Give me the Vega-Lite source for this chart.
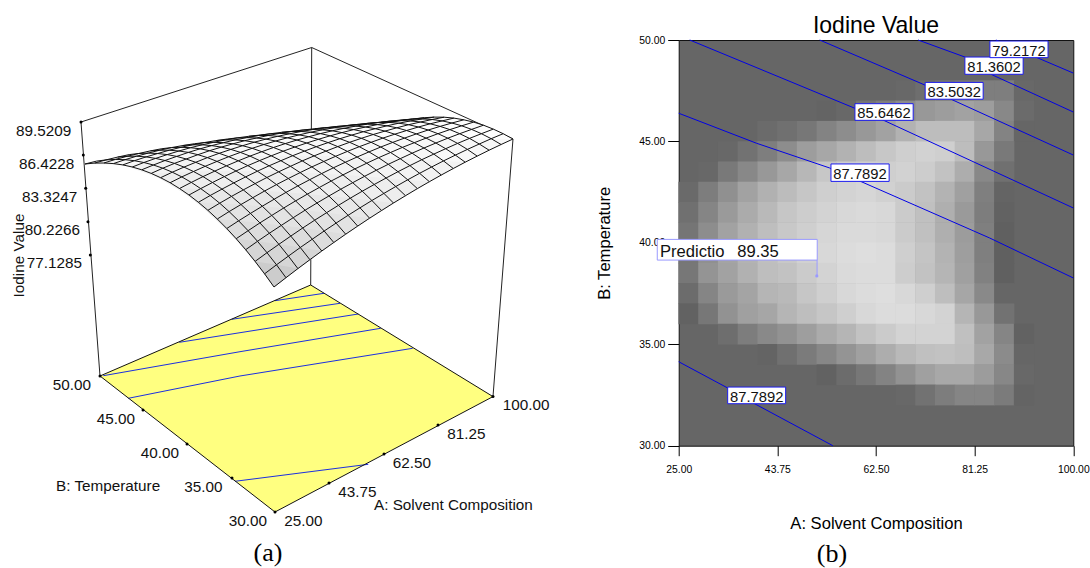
{"$schema":"https://vega.github.io/schema/vega-lite/v6.json","padding":{"left":0,"top":14,"right":16.7,"bottom":0},"bounds":"flush","spacing":78.7,"config":{"view":{"stroke":null},"font":"Liberation Sans"},
"datasets":{
"frame":[{"s":"l","k":0,"u":81,"v":122},{"s":"l","k":1,"u":100,"v":376},{"s":"t","k":0,"u":81,"v":122},{"s":"t","k":1,"u":311.7,"v":47.5},{"s":"t","k":2,"u":513,"v":139},{"s":"b","k":0,"u":311.7,"v":47.5},{"s":"b","k":1,"u":310.7,"v":285},{"s":"r","k":0,"u":513,"v":139},{"s":"r","k":1,"u":493,"v":396.6}],
"floorEdge":[{"u":100,"v":376,"k":0},{"u":275,"v":512,"k":1},{"u":493,"v":396.6,"k":2},{"u":310.7,"v":285,"k":3},{"u":100,"v":376,"k":4}],
"floor":[{"u":100,"v":376,"v2":376},{"u":275,"v":300.4,"v2":512},{"u":310.7,"v":285,"v2":493.1},{"u":493,"v":396.6,"v2":396.6}],
"floorContours":[{"c":"a","u":275,"v":300.7},{"c":"a","u":324,"v":293.3},{"c":"b","u":231.7,"v":319.3},{"c":"b","u":340,"v":303.3},{"c":"c","u":179.3,"v":342.3},{"c":"c","u":358.3,"v":314},{"c":"d","u":103.3,"v":375.7},{"c":"d","u":240,"v":351.7},{"c":"d","u":380.7,"v":328.3},{"c":"e","u":128.3,"v":398.3},{"c":"e","u":240,"v":376},{"c":"e","u":412.7,"v":348.3},{"c":"f","u":235,"v":481.3},{"c":"f","u":368.3,"v":464.3}],
"dots":[{"u":81,"v":122},{"u":83.3,"v":155},{"u":85.7,"v":188.3},{"u":88,"v":221.7},{"u":90.3,"v":255},{"u":100,"v":376},{"u":143,"v":410},{"u":187,"v":444},{"u":232,"v":478},{"u":275,"v":512},{"u":329,"v":483},{"u":384,"v":454},{"u":438,"v":425},{"u":493,"v":396.6}],
"labels":[{"t":"89.5209","u":16,"v":136},{"t":"86.4228","u":19,"v":169},{"t":"83.3247","u":22,"v":202.3},{"t":"80.2266","u":24.7,"v":235},{"t":"77.1285","u":26.7,"v":268},{"t":"50.00","u":52.7,"v":390},{"t":"45.00","u":96.7,"v":424},{"t":"40.00","u":140.7,"v":458},{"t":"35.00","u":184.3,"v":492},{"t":"30.00","u":228.7,"v":526},{"t":"25.00","u":284.3,"v":526},{"t":"43.75","u":338.3,"v":497.3},{"t":"62.50","u":392.7,"v":468.3},{"t":"81.25","u":447.3,"v":439.3},{"t":"100.00","u":502.7,"v":410},{"t":"B: Temperature","u":56,"v":490.7},{"t":"A: Solvent Composition","u":374,"v":510}],
"bands":[
{"n":99,"u":85,"v":164,"v2":164},{"n":99,"u":96.6,"v":161.1,"v2":163.2},{"n":99,"u":117.6,"v":157.1,"v2":164.1},{"n":99,"u":129.2,"v":154.6,"v2":166.2},{"n":99,"u":150.3,"v":150.9,"v2":173},{"n":99,"u":183,"v":145.5,"v2":191},{"n":99,"u":215.8,"v":140.6,"v2":217.6},{"n":99,"u":248.8,"v":136.3,"v2":253},{"n":99,"u":274,"v":133.5,"v2":287},{"n":99,"u":293.4,"v":131.2,"v2":272},{"n":99,"u":326.5,"v":127.8,"v2":247.6},{"n":99,"u":359.7,"v":124.5,"v2":224.7},{"n":99,"u":392.9,"v":121.5,"v2":203.4},{"n":99,"u":414.5,"v":119,"v2":190.3},{"n":99,"u":434.2,"v":117.1,"v2":178.8},{"n":99,"u":444.1,"v":117.2,"v2":173.5},{"n":99,"u":453.9,"v":118.1,"v2":168.2},{"n":99,"u":463.8,"v":119.8,"v2":163},{"n":99,"u":473.6,"v":122.1,"v2":157.9},{"n":99,"u":483.5,"v":125.2,"v2":153},{"n":99,"u":493.3,"v":129.1,"v2":148.2},{"n":99,"u":503.2,"v":133.7,"v2":143.5},{"n":99,"u":513,"v":139,"v2":139},
{"n":20,"u":85,"v":164,"v2":164},{"n":20,"u":127.1,"v":156.3,"v2":165.8},{"n":20,"u":169.3,"v":150.2,"v2":182.2},{"n":20,"u":211.7,"v":145.6,"v2":213.6},{"n":20,"u":254.3,"v":142.2,"v2":260.4},{"n":20,"u":274,"v":141.2,"v2":287},{"n":20,"u":297,"v":140,"v2":269.3},{"n":20,"u":339.9,"v":138.7,"v2":238.2},{"n":20,"u":382.9,"v":138.1,"v2":209.7},{"n":20,"u":426.1,"v":138.1,"v2":183.6},{"n":20,"u":469.5,"v":138.4,"v2":160.1},{"n":20,"u":513,"v":139,"v2":139},
{"n":16,"u":122.8,"v":164.9,"v2":164.9},{"n":16,"u":165,"v":160.5,"v2":180},{"n":16,"u":207.4,"v":157.6,"v2":209.8},{"n":16,"u":250,"v":156.1,"v2":255},{"n":16,"u":274,"v":155.9,"v2":287},{"n":16,"u":292.7,"v":155.7,"v2":273},{"n":16,"u":335.6,"v":156.3,"v2":241.2},{"n":16,"u":378.6,"v":157.7,"v2":212.4},{"n":16,"u":421.8,"v":159.7,"v2":186.1},{"n":16,"u":465.2,"v":162.2,"v2":162.2},
{"n":13,"u":151.2,"v":173.4,"v2":173.4},{"n":13,"u":193.5,"v":171.5,"v2":198.7},{"n":13,"u":236,"v":171,"v2":238.5},{"n":13,"u":274,"v":171.6,"v2":287},{"n":13,"u":321.6,"v":173.6,"v2":251.1},{"n":13,"u":364.6,"v":176.3,"v2":221.4},{"n":13,"u":429.4,"v":181.7,"v2":181.7},
{"n":10,"u":179.5,"v":188.5,"v2":188.5},{"n":10,"u":222,"v":189.1,"v2":223.7},{"n":10,"u":255,"v":190.5,"v2":261.4},{"n":10,"u":274,"v":191.6,"v2":287},{"n":10,"u":307.4,"v":194.1,"v2":261.9},{"n":10,"u":350.4,"v":198.1,"v2":231},{"n":10,"u":393.5,"v":203,"v2":203},
{"n":8,"u":198.4,"v":202.3,"v2":202.3},{"n":8,"u":241,"v":204.5,"v2":244.2},{"n":8,"u":255,"v":205.7,"v2":261.4},{"n":8,"u":274,"v":207.3,"v2":287},{"n":8,"u":297.9,"v":209.5,"v2":268.6},{"n":8,"u":326.6,"v":212.7,"v2":247.6},{"n":8,"u":369.6,"v":218.2,"v2":218.2},
{"n":6,"u":217.3,"v":219,"v2":219},{"n":6,"u":238.6,"v":220.8,"v2":241.5},{"n":6,"u":259.9,"v":222.9,"v2":267.5},{"n":6,"u":274,"v":224.5,"v2":287},{"n":6,"u":302.7,"v":228,"v2":265},{"n":6,"u":324.2,"v":231,"v2":249},{"n":6,"u":345.7,"v":234.2,"v2":234.2},
{"n":4,"u":236.2,"v":238.7,"v2":238.7},{"n":4,"u":255.1,"v":241,"v2":261.4},{"n":4,"u":274,"v":243.6,"v2":287},{"n":4,"u":297.9,"v":247.1,"v2":268.6},{"n":4,"u":321.8,"v":251,"v2":251},
{"n":2,"u":255.1,"v":261.4,"v2":261.4},{"n":2,"u":274,"v":264.3,"v2":287},{"n":2,"u":297.9,"v":268.6,"v2":268.6}],
"nodes":[
{"i":0,"j":0,"u":274,"v":287},{"i":0,"j":1,"u":264.6,"v":273.8},{"i":0,"j":2,"u":255.1,"v":261.4},{"i":0,"j":3,"u":245.7,"v":249.7},{"i":0,"j":4,"u":236.2,"v":238.7},{"i":0,"j":5,"u":226.8,"v":228.5},{"i":0,"j":6,"u":217.3,"v":219},{"i":0,"j":7,"u":207.9,"v":210.3},{"i":0,"j":8,"u":198.4,"v":202.3},{"i":0,"j":9,"u":189,"v":195},{"i":0,"j":10,"u":179.5,"v":188.5},{"i":0,"j":11,"u":170.1,"v":182.7},{"i":0,"j":12,"u":160.6,"v":177.7},{"i":0,"j":13,"u":151.2,"v":173.4},{"i":0,"j":14,"u":141.7,"v":169.8},{"i":0,"j":15,"u":132.3,"v":167},{"i":0,"j":16,"u":122.8,"v":164.9},{"i":0,"j":17,"u":113.4,"v":163.6},{"i":0,"j":18,"u":103.9,"v":163},{"i":0,"j":19,"u":94.5,"v":163.1},{"i":0,"j":20,"u":85,"v":164},
{"i":1,"j":0,"u":286,"v":277.7},{"i":1,"j":1,"u":276.5,"v":264.8},{"i":1,"j":2,"u":267,"v":252.7},{"i":1,"j":3,"u":257.5,"v":241.3},{"i":1,"j":4,"u":248.1,"v":230.7},{"i":1,"j":5,"u":238.6,"v":220.8},{"i":1,"j":6,"u":229.1,"v":211.6},{"i":1,"j":7,"u":219.7,"v":203.2},{"i":1,"j":8,"u":210.2,"v":195.5},{"i":1,"j":9,"u":200.7,"v":188.6},{"i":1,"j":10,"u":191.3,"v":182.4},{"i":1,"j":11,"u":181.8,"v":176.9},{"i":1,"j":12,"u":172.3,"v":172.2},{"i":1,"j":13,"u":162.8,"v":168.2},{"i":1,"j":14,"u":153.4,"v":165},{"i":1,"j":15,"u":143.9,"v":162.5},{"i":1,"j":16,"u":134.4,"v":160.7},{"i":1,"j":17,"u":125,"v":159.7},{"i":1,"j":18,"u":115.5,"v":159.4},{"i":1,"j":19,"u":106,"v":159.9},{"i":1,"j":20,"u":96.6,"v":161.1},
{"i":2,"j":0,"u":297.9,"v":268.6},{"i":2,"j":1,"u":288.4,"v":256.1},{"i":2,"j":2,"u":278.9,"v":244.3},{"i":2,"j":3,"u":269.4,"v":233.2},{"i":2,"j":4,"u":259.9,"v":222.9},{"i":2,"j":5,"u":250.5,"v":213.4},{"i":2,"j":6,"u":241,"v":204.5},{"i":2,"j":7,"u":231.5,"v":196.4},{"i":2,"j":8,"u":222,"v":189.1},{"i":2,"j":9,"u":212.5,"v":182.5},{"i":2,"j":10,"u":203,"v":176.6},{"i":2,"j":11,"u":193.5,"v":171.5},{"i":2,"j":12,"u":184,"v":167.1},{"i":2,"j":13,"u":174.5,"v":163.4},{"i":2,"j":14,"u":165,"v":160.5},{"i":2,"j":15,"u":155.6,"v":158.4},{"i":2,"j":16,"u":146.1,"v":156.9},{"i":2,"j":17,"u":136.6,"v":156.2},{"i":2,"j":18,"u":127.1,"v":156.3},{"i":2,"j":19,"u":117.6,"v":157.1},
{"i":3,"j":0,"u":309.9,"v":259.7},{"i":3,"j":1,"u":300.3,"v":247.5},{"i":3,"j":2,"u":290.8,"v":236.1},{"i":3,"j":3,"u":281.3,"v":225.4},{"i":3,"j":4,"u":271.8,"v":215.4},{"i":3,"j":5,"u":262.3,"v":206.2},{"i":3,"j":6,"u":252.8,"v":197.7},{"i":3,"j":7,"u":243.3,"v":189.9},{"i":3,"j":8,"u":233.8,"v":182.9},{"i":3,"j":9,"u":224.3,"v":176.6},{"i":3,"j":10,"u":214.8,"v":171.1},{"i":3,"j":11,"u":205.2,"v":166.3},{"i":3,"j":12,"u":195.7,"v":162.3},{"i":3,"j":13,"u":186.2,"v":159},{"i":3,"j":14,"u":176.7,"v":156.4},{"i":3,"j":15,"u":167.2,"v":154.6},{"i":3,"j":16,"u":157.7,"v":153.5},{"i":3,"j":17,"u":148.2,"v":153.1},{"i":3,"j":18,"u":138.7,"v":153.5},{"i":3,"j":19,"u":129.2,"v":154.6},
{"i":4,"j":0,"u":321.8,"v":251},{"i":4,"j":1,"u":312.3,"v":239.2},{"i":4,"j":2,"u":302.7,"v":228},{"i":4,"j":3,"u":293.2,"v":217.7},{"i":4,"j":4,"u":283.7,"v":208},{"i":4,"j":5,"u":274.2,"v":199.2},{"i":4,"j":6,"u":264.6,"v":191},{"i":4,"j":7,"u":255.1,"v":183.6},{"i":4,"j":8,"u":245.6,"v":176.9},{"i":4,"j":9,"u":236,"v":171},{"i":4,"j":10,"u":226.5,"v":165.8},{"i":4,"j":11,"u":217,"v":161.4},{"i":4,"j":12,"u":207.4,"v":157.6},{"i":4,"j":13,"u":197.9,"v":154.7},{"i":4,"j":14,"u":188.4,"v":152.4},{"i":4,"j":15,"u":178.9,"v":151},{"i":4,"j":16,"u":169.3,"v":150.2},{"i":4,"j":17,"u":159.8,"v":150.2},{"i":4,"j":18,"u":150.3,"v":150.9},
{"i":5,"j":0,"u":333.8,"v":242.5},{"i":5,"j":1,"u":324.2,"v":231},{"i":5,"j":2,"u":314.7,"v":220.2},{"i":5,"j":3,"u":305.1,"v":210.2},{"i":5,"j":4,"u":295.6,"v":200.9},{"i":5,"j":5,"u":286,"v":192.4},{"i":5,"j":6,"u":276.5,"v":184.6},{"i":5,"j":7,"u":266.9,"v":177.5},{"i":5,"j":8,"u":257.4,"v":171.2},{"i":5,"j":9,"u":247.8,"v":165.6},{"i":5,"j":10,"u":238.3,"v":160.8},{"i":5,"j":11,"u":228.7,"v":156.7},{"i":5,"j":12,"u":219.2,"v":153.3},{"i":5,"j":13,"u":209.6,"v":150.7},{"i":5,"j":14,"u":200.1,"v":148.8},{"i":5,"j":15,"u":190.5,"v":147.7},{"i":5,"j":16,"u":181,"v":147.3},{"i":5,"j":17,"u":171.4,"v":147.6},{"i":5,"j":18,"u":161.9,"v":148.7},
{"i":6,"j":0,"u":345.7,"v":234.2},{"i":6,"j":1,"u":336.1,"v":223.1},{"i":6,"j":2,"u":326.6,"v":212.7},{"i":6,"j":3,"u":317,"v":203},{"i":6,"j":4,"u":307.4,"v":194.1},{"i":6,"j":5,"u":297.9,"v":185.9},{"i":6,"j":6,"u":288.3,"v":178.5},{"i":6,"j":7,"u":278.7,"v":171.8},{"i":6,"j":8,"u":269.1,"v":165.8},{"i":6,"j":9,"u":259.6,"v":160.6},{"i":6,"j":10,"u":250,"v":156.1},{"i":6,"j":11,"u":240.4,"v":152.4},{"i":6,"j":12,"u":230.9,"v":149.4},{"i":6,"j":13,"u":221.3,"v":147.1},{"i":6,"j":14,"u":211.7,"v":145.6},{"i":6,"j":15,"u":202.2,"v":144.8},{"i":6,"j":16,"u":192.6,"v":144.8},{"i":6,"j":17,"u":183,"v":145.5},
{"i":7,"j":0,"u":357.7,"v":226.1},{"i":7,"j":1,"u":348.1,"v":215.3},{"i":7,"j":2,"u":338.5,"v":205.3},{"i":7,"j":3,"u":328.9,"v":196},{"i":7,"j":4,"u":319.3,"v":187.5},{"i":7,"j":5,"u":309.7,"v":179.7},{"i":7,"j":6,"u":300.1,"v":172.6},{"i":7,"j":7,"u":290.5,"v":166.3},{"i":7,"j":8,"u":280.9,"v":160.7},{"i":7,"j":9,"u":271.3,"v":155.8},{"i":7,"j":10,"u":261.8,"v":151.7},{"i":7,"j":11,"u":252.2,"v":148.3},{"i":7,"j":12,"u":242.6,"v":145.7},{"i":7,"j":13,"u":233,"v":143.8},{"i":7,"j":14,"u":223.4,"v":142.7},{"i":7,"j":15,"u":213.8,"v":142.3},{"i":7,"j":16,"u":204.2,"v":142.6},{"i":7,"j":17,"u":194.6,"v":143.7},
{"i":8,"j":0,"u":369.6,"v":218.2},{"i":8,"j":1,"u":360,"v":207.8},{"i":8,"j":2,"u":350.4,"v":198.1},{"i":8,"j":3,"u":340.8,"v":189.2},{"i":8,"j":4,"u":331.2,"v":181},{"i":8,"j":5,"u":321.6,"v":173.6},{"i":8,"j":6,"u":311.9,"v":166.9},{"i":8,"j":7,"u":302.3,"v":160.9},{"i":8,"j":8,"u":292.7,"v":155.7},{"i":8,"j":9,"u":283.1,"v":151.2},{"i":8,"j":10,"u":273.5,"v":147.5},{"i":8,"j":11,"u":263.9,"v":144.5},{"i":8,"j":12,"u":254.3,"v":142.2},{"i":8,"j":13,"u":244.7,"v":140.7},{"i":8,"j":14,"u":235.1,"v":139.9},{"i":8,"j":15,"u":225.5,"v":139.9},{"i":8,"j":16,"u":215.8,"v":140.6},
{"i":9,"j":0,"u":381.6,"v":210.5},{"i":9,"j":1,"u":371.9,"v":200.5},{"i":9,"j":2,"u":362.3,"v":191.2},{"i":9,"j":3,"u":352.7,"v":182.7},{"i":9,"j":4,"u":343,"v":174.9},{"i":9,"j":5,"u":333.4,"v":167.8},{"i":9,"j":6,"u":323.8,"v":161.5},{"i":9,"j":7,"u":314.1,"v":155.9},{"i":9,"j":8,"u":304.5,"v":151.1},{"i":9,"j":9,"u":294.9,"v":147},{"i":9,"j":10,"u":285.3,"v":143.6},{"i":9,"j":11,"u":275.6,"v":141},{"i":9,"j":12,"u":266,"v":139.1},{"i":9,"j":13,"u":256.4,"v":138},{"i":9,"j":14,"u":246.7,"v":137.6},{"i":9,"j":15,"u":237.1,"v":137.9},{"i":9,"j":16,"u":227.5,"v":139},
{"i":10,"j":0,"u":393.5,"v":203},{"i":10,"j":1,"u":383.9,"v":193.4},{"i":10,"j":2,"u":374.2,"v":184.5},{"i":10,"j":3,"u":364.6,"v":176.3},{"i":10,"j":4,"u":354.9,"v":168.9},{"i":10,"j":5,"u":345.3,"v":162.3},{"i":10,"j":6,"u":335.6,"v":156.3},{"i":10,"j":7,"u":326,"v":151.1},{"i":10,"j":8,"u":316.3,"v":146.7},{"i":10,"j":9,"u":306.7,"v":143},{"i":10,"j":10,"u":297,"v":140},{"i":10,"j":11,"u":287.4,"v":137.8},{"i":10,"j":12,"u":277.7,"v":136.3},{"i":10,"j":13,"u":268.1,"v":135.5},{"i":10,"j":14,"u":258.4,"v":135.5},{"i":10,"j":15,"u":248.8,"v":136.3},
{"i":11,"j":0,"u":405.5,"v":195.7},{"i":11,"j":1,"u":395.8,"v":186.5},{"i":11,"j":2,"u":386.1,"v":178},{"i":11,"j":3,"u":376.4,"v":170.2},{"i":11,"j":4,"u":366.8,"v":163.2},{"i":11,"j":5,"u":357.1,"v":157},{"i":11,"j":6,"u":347.4,"v":151.4},{"i":11,"j":7,"u":337.8,"v":146.6},{"i":11,"j":8,"u":328.1,"v":142.6},{"i":11,"j":9,"u":318.4,"v":139.3},{"i":11,"j":10,"u":308.8,"v":136.7},{"i":11,"j":11,"u":299.1,"v":134.9},{"i":11,"j":12,"u":289.4,"v":133.8},{"i":11,"j":13,"u":279.7,"v":133.4},{"i":11,"j":14,"u":270.1,"v":133.8},{"i":11,"j":15,"u":260.4,"v":135},
{"i":12,"j":0,"u":417.4,"v":188.6},{"i":12,"j":1,"u":407.7,"v":179.8},{"i":12,"j":2,"u":398,"v":171.7},{"i":12,"j":3,"u":388.3,"v":164.3},{"i":12,"j":4,"u":378.6,"v":157.7},{"i":12,"j":5,"u":369,"v":151.9},{"i":12,"j":6,"u":359.3,"v":146.7},{"i":12,"j":7,"u":349.6,"v":142.3},{"i":12,"j":8,"u":339.9,"v":138.7},{"i":12,"j":9,"u":330.2,"v":135.8},{"i":12,"j":10,"u":320.5,"v":133.6},{"i":12,"j":11,"u":310.8,"v":132.2},{"i":12,"j":12,"u":301.1,"v":131.5},{"i":12,"j":13,"u":291.4,"v":131.5},{"i":12,"j":14,"u":281.7,"v":132.3},
{"i":13,"j":0,"u":429.4,"v":181.7},{"i":13,"j":1,"u":419.6,"v":173.3},{"i":13,"j":2,"u":409.9,"v":165.6},{"i":13,"j":3,"u":400.2,"v":158.7},{"i":13,"j":4,"u":390.5,"v":152.5},{"i":13,"j":5,"u":380.8,"v":147},{"i":13,"j":6,"u":371.1,"v":142.3},{"i":13,"j":7,"u":361.4,"v":138.3},{"i":13,"j":8,"u":351.7,"v":135.1},{"i":13,"j":9,"u":342,"v":132.6},{"i":13,"j":10,"u":332.3,"v":130.8},{"i":13,"j":11,"u":322.5,"v":129.8},{"i":13,"j":12,"u":312.8,"v":129.5},{"i":13,"j":13,"u":303.1,"v":130},{"i":13,"j":14,"u":293.4,"v":131.2},
{"i":14,"j":0,"u":441.3,"v":175},{"i":14,"j":1,"u":431.6,"v":167},{"i":14,"j":2,"u":421.8,"v":159.7},{"i":14,"j":3,"u":412.1,"v":153.2},{"i":14,"j":4,"u":402.4,"v":147.4},{"i":14,"j":5,"u":392.7,"v":142.4},{"i":14,"j":6,"u":382.9,"v":138.1},{"i":14,"j":7,"u":373.2,"v":134.5},{"i":14,"j":8,"u":363.5,"v":131.7},{"i":14,"j":9,"u":353.7,"v":129.6},{"i":14,"j":10,"u":344,"v":128.3},{"i":14,"j":11,"u":334.3,"v":127.7},{"i":14,"j":12,"u":324.5,"v":127.8},{"i":14,"j":13,"u":314.8,"v":128.7},
{"i":15,"j":0,"u":453.3,"v":168.5},{"i":15,"j":1,"u":443.5,"v":160.9},{"i":15,"j":2,"u":433.8,"v":154.1},{"i":15,"j":3,"u":424,"v":148},{"i":15,"j":4,"u":414.3,"v":142.7},{"i":15,"j":5,"u":404.5,"v":138.1},{"i":15,"j":6,"u":394.8,"v":134.2},{"i":15,"j":7,"u":385,"v":131.1},{"i":15,"j":8,"u":375.3,"v":128.7},{"i":15,"j":9,"u":365.5,"v":127},{"i":15,"j":10,"u":355.8,"v":126.1},{"i":15,"j":11,"u":346,"v":125.9},{"i":15,"j":12,"u":336.3,"v":126.5},{"i":15,"j":13,"u":326.5,"v":127.8},
{"i":16,"j":0,"u":465.2,"v":162.2},{"i":16,"j":1,"u":455.4,"v":155.1},{"i":16,"j":2,"u":445.7,"v":148.7},{"i":16,"j":3,"u":435.9,"v":143},{"i":16,"j":4,"u":426.1,"v":138.1},{"i":16,"j":5,"u":416.4,"v":133.9},{"i":16,"j":6,"u":406.6,"v":130.5},{"i":16,"j":7,"u":396.8,"v":127.8},{"i":16,"j":8,"u":387,"v":125.8},{"i":16,"j":9,"u":377.3,"v":124.6},{"i":16,"j":10,"u":367.5,"v":124.1},{"i":16,"j":11,"u":357.7,"v":124.4},{"i":16,"j":12,"u":348,"v":125.4},
{"i":17,"j":0,"u":477.2,"v":156.1},{"i":17,"j":1,"u":467.4,"v":149.4},{"i":17,"j":2,"u":457.6,"v":143.4},{"i":17,"j":3,"u":447.8,"v":138.2},{"i":17,"j":4,"u":438,"v":133.7},{"i":17,"j":5,"u":428.2,"v":130},{"i":17,"j":6,"u":418.4,"v":127},{"i":17,"j":7,"u":408.6,"v":124.7},{"i":17,"j":8,"u":398.8,"v":123.2},{"i":17,"j":9,"u":389,"v":122.4},{"i":17,"j":10,"u":379.3,"v":122.4},{"i":17,"j":11,"u":369.5,"v":123.1},{"i":17,"j":12,"u":359.7,"v":124.5},
{"i":18,"j":0,"u":489.1,"v":150.2},{"i":18,"j":1,"u":479.3,"v":144},{"i":18,"j":2,"u":469.5,"v":138.4},{"i":18,"j":3,"u":459.7,"v":133.7},{"i":18,"j":4,"u":449.9,"v":129.6},{"i":18,"j":5,"u":440.1,"v":126.4},{"i":18,"j":6,"u":430.2,"v":123.8},{"i":18,"j":7,"u":420.4,"v":122},{"i":18,"j":8,"u":410.6,"v":120.9},{"i":18,"j":9,"u":400.8,"v":120.6},{"i":18,"j":10,"u":391,"v":121},{"i":18,"j":11,"u":381.2,"v":122.2},
{"i":19,"j":0,"u":501.1,"v":144.5},{"i":19,"j":1,"u":491.2,"v":138.7},{"i":19,"j":2,"u":481.4,"v":133.7},{"i":19,"j":3,"u":471.6,"v":129.4},{"i":19,"j":4,"u":461.7,"v":125.8},{"i":19,"j":5,"u":451.9,"v":123},{"i":19,"j":6,"u":442.1,"v":120.9},{"i":19,"j":7,"u":432.2,"v":119.5},{"i":19,"j":8,"u":422.4,"v":118.9},{"i":19,"j":9,"u":412.6,"v":119},{"i":19,"j":10,"u":402.8,"v":119.9},{"i":19,"j":11,"u":392.9,"v":121.5},
{"i":20,"j":0,"u":513,"v":139},{"i":20,"j":1,"u":503.2,"v":133.7},{"i":20,"j":2,"u":493.3,"v":129.1},{"i":20,"j":3,"u":483.5,"v":125.2},{"i":20,"j":4,"u":473.6,"v":122.1},{"i":20,"j":5,"u":463.8,"v":119.8},{"i":20,"j":6,"u":453.9,"v":118.1},{"i":20,"j":7,"u":444.1,"v":117.2},{"i":20,"j":8,"u":434.2,"v":117.1},{"i":20,"j":9,"u":424.4,"v":117.7},{"i":20,"j":10,"u":414.5,"v":119}],
"cells":[
{"A":68.125,"B":47.5,"g":112},{"A":71.875,"B":47.5,"g":118},{"A":75.625,"B":47.5,"g":125},{"A":79.375,"B":47.5,"g":130},{"A":83.125,"B":47.5,"g":135},{"A":86.875,"B":47.5,"g":135},{"A":90.625,"B":47.5,"g":112},
{"A":53.125,"B":46.5,"g":108},{"A":56.875,"B":46.5,"g":112},{"A":60.625,"B":46.5,"g":125},{"A":64.375,"B":46.5,"g":135},{"A":68.125,"B":46.5,"g":148},{"A":71.875,"B":46.5,"g":160},{"A":75.625,"B":46.5,"g":165},{"A":79.375,"B":46.5,"g":170},{"A":83.125,"B":46.5,"g":165},{"A":86.875,"B":46.5,"g":145},{"A":90.625,"B":46.5,"g":115},
{"A":41.875,"B":45.5,"g":115},{"A":45.625,"B":45.5,"g":120},{"A":49.375,"B":45.5,"g":128},{"A":53.125,"B":45.5,"g":140},{"A":56.875,"B":45.5,"g":150},{"A":60.625,"B":45.5,"g":160},{"A":64.375,"B":45.5,"g":170},{"A":68.125,"B":45.5,"g":185},{"A":71.875,"B":45.5,"g":195},{"A":75.625,"B":45.5,"g":195},{"A":79.375,"B":45.5,"g":195},{"A":83.125,"B":45.5,"g":175},{"A":86.875,"B":45.5,"g":140},{"A":90.625,"B":45.5,"g":110},
{"A":34.375,"B":44.5,"g":112},{"A":38.125,"B":44.5,"g":122},{"A":41.875,"B":44.5,"g":135},{"A":45.625,"B":44.5,"g":150},{"A":49.375,"B":44.5,"g":165},{"A":53.125,"B":44.5,"g":175},{"A":56.875,"B":44.5,"g":185},{"A":60.625,"B":44.5,"g":195},{"A":64.375,"B":44.5,"g":205},{"A":68.125,"B":44.5,"g":212},{"A":71.875,"B":44.5,"g":215},{"A":75.625,"B":44.5,"g":212},{"A":79.375,"B":44.5,"g":195},{"A":83.125,"B":44.5,"g":160},{"A":86.875,"B":44.5,"g":130},
{"A":30.625,"B":43.5,"g":112},{"A":34.375,"B":43.5,"g":130},{"A":38.125,"B":43.5,"g":145},{"A":41.875,"B":43.5,"g":160},{"A":45.625,"B":43.5,"g":175},{"A":49.375,"B":43.5,"g":190},{"A":53.125,"B":43.5,"g":205},{"A":56.875,"B":43.5,"g":210},{"A":60.625,"B":43.5,"g":212},{"A":64.375,"B":43.5,"g":212},{"A":68.125,"B":43.5,"g":215},{"A":71.875,"B":43.5,"g":210},{"A":75.625,"B":43.5,"g":200},{"A":79.375,"B":43.5,"g":180},{"A":83.125,"B":43.5,"g":145},{"A":86.875,"B":43.5,"g":120},
{"A":26.875,"B":42.5,"g":114},{"A":30.625,"B":42.5,"g":134},{"A":34.375,"B":42.5,"g":152},{"A":38.125,"B":42.5,"g":170},{"A":41.875,"B":42.5,"g":184},{"A":45.625,"B":42.5,"g":194},{"A":49.375,"B":42.5,"g":204},{"A":53.125,"B":42.5,"g":212},{"A":56.875,"B":42.5,"g":216},{"A":60.625,"B":42.5,"g":218},{"A":64.375,"B":42.5,"g":214},{"A":68.125,"B":42.5,"g":208},{"A":71.875,"B":42.5,"g":200},{"A":75.625,"B":42.5,"g":186},{"A":79.375,"B":42.5,"g":168},{"A":83.125,"B":42.5,"g":136},{"A":86.875,"B":42.5,"g":108},
{"A":26.875,"B":41.5,"g":120},{"A":30.625,"B":41.5,"g":142},{"A":34.375,"B":41.5,"g":162},{"A":38.125,"B":41.5,"g":178},{"A":41.875,"B":41.5,"g":192},{"A":45.625,"B":41.5,"g":204},{"A":49.375,"B":41.5,"g":210},{"A":53.125,"B":41.5,"g":216},{"A":56.875,"B":41.5,"g":220},{"A":60.625,"B":41.5,"g":222},{"A":64.375,"B":41.5,"g":220},{"A":68.125,"B":41.5,"g":208},{"A":71.875,"B":41.5,"g":198},{"A":75.625,"B":41.5,"g":182},{"A":79.375,"B":41.5,"g":162},{"A":83.125,"B":41.5,"g":134},{"A":86.875,"B":41.5,"g":106},
{"A":26.875,"B":40.5,"g":126},{"A":30.625,"B":40.5,"g":150},{"A":34.375,"B":40.5,"g":170},{"A":38.125,"B":40.5,"g":184},{"A":41.875,"B":40.5,"g":196},{"A":45.625,"B":40.5,"g":206},{"A":49.375,"B":40.5,"g":212},{"A":53.125,"B":40.5,"g":218},{"A":56.875,"B":40.5,"g":222},{"A":60.625,"B":40.5,"g":222},{"A":64.375,"B":40.5,"g":220},{"A":68.125,"B":40.5,"g":208},{"A":71.875,"B":40.5,"g":198},{"A":75.625,"B":40.5,"g":182},{"A":79.375,"B":40.5,"g":164},{"A":83.125,"B":40.5,"g":136},{"A":86.875,"B":40.5,"g":104},
{"A":26.875,"B":39.5,"g":128},{"A":30.625,"B":39.5,"g":152},{"A":34.375,"B":39.5,"g":172},{"A":38.125,"B":39.5,"g":186},{"A":41.875,"B":39.5,"g":198},{"A":45.625,"B":39.5,"g":206},{"A":49.375,"B":39.5,"g":214},{"A":53.125,"B":39.5,"g":220},{"A":56.875,"B":39.5,"g":224},{"A":60.625,"B":39.5,"g":226},{"A":64.375,"B":39.5,"g":224},{"A":68.125,"B":39.5,"g":212},{"A":71.875,"B":39.5,"g":202},{"A":75.625,"B":39.5,"g":186},{"A":79.375,"B":39.5,"g":166},{"A":83.125,"B":39.5,"g":136},{"A":86.875,"B":39.5,"g":104},
{"A":26.875,"B":38.5,"g":128},{"A":30.625,"B":38.5,"g":156},{"A":34.375,"B":38.5,"g":170},{"A":38.125,"B":38.5,"g":184},{"A":41.875,"B":38.5,"g":196},{"A":45.625,"B":38.5,"g":200},{"A":49.375,"B":38.5,"g":208},{"A":53.125,"B":38.5,"g":216},{"A":56.875,"B":38.5,"g":222},{"A":60.625,"B":38.5,"g":224},{"A":64.375,"B":38.5,"g":224},{"A":68.125,"B":38.5,"g":210},{"A":71.875,"B":38.5,"g":200},{"A":75.625,"B":38.5,"g":188},{"A":79.375,"B":38.5,"g":168},{"A":83.125,"B":38.5,"g":138},{"A":86.875,"B":38.5,"g":104},
{"A":26.875,"B":37.5,"g":116},{"A":30.625,"B":37.5,"g":142},{"A":34.375,"B":37.5,"g":162},{"A":38.125,"B":37.5,"g":172},{"A":41.875,"B":37.5,"g":188},{"A":45.625,"B":37.5,"g":192},{"A":49.375,"B":37.5,"g":204},{"A":53.125,"B":37.5,"g":212},{"A":56.875,"B":37.5,"g":220},{"A":60.625,"B":37.5,"g":224},{"A":64.375,"B":37.5,"g":226},{"A":68.125,"B":37.5,"g":220},{"A":71.875,"B":37.5,"g":212},{"A":75.625,"B":37.5,"g":196},{"A":79.375,"B":37.5,"g":174},{"A":83.125,"B":37.5,"g":146},{"A":86.875,"B":37.5,"g":110},
{"A":26.875,"B":36.5,"g":106},{"A":30.625,"B":36.5,"g":128},{"A":34.375,"B":36.5,"g":154},{"A":38.125,"B":36.5,"g":168},{"A":41.875,"B":36.5,"g":174},{"A":45.625,"B":36.5,"g":188},{"A":49.375,"B":36.5,"g":196},{"A":53.125,"B":36.5,"g":204},{"A":56.875,"B":36.5,"g":212},{"A":60.625,"B":36.5,"g":220},{"A":64.375,"B":36.5,"g":224},{"A":68.125,"B":36.5,"g":224},{"A":71.875,"B":36.5,"g":220},{"A":75.625,"B":36.5,"g":216},{"A":79.375,"B":36.5,"g":188},{"A":83.125,"B":36.5,"g":160},{"A":86.875,"B":36.5,"g":122},
{"A":34.375,"B":35.5,"g":118},{"A":38.125,"B":35.5,"g":134},{"A":41.875,"B":35.5,"g":146},{"A":45.625,"B":35.5,"g":154},{"A":49.375,"B":35.5,"g":166},{"A":53.125,"B":35.5,"g":178},{"A":56.875,"B":35.5,"g":188},{"A":60.625,"B":35.5,"g":200},{"A":64.375,"B":35.5,"g":208},{"A":68.125,"B":35.5,"g":216},{"A":71.875,"B":35.5,"g":216},{"A":75.625,"B":35.5,"g":216},{"A":79.375,"B":35.5,"g":198},{"A":83.125,"B":35.5,"g":170},{"A":86.875,"B":35.5,"g":142},{"A":90.625,"B":35.5,"g":106},
{"A":41.875,"B":34.5,"g":108},{"A":45.625,"B":34.5,"g":120},{"A":49.375,"B":34.5,"g":132},{"A":53.125,"B":34.5,"g":144},{"A":56.875,"B":34.5,"g":156},{"A":60.625,"B":34.5,"g":168},{"A":64.375,"B":34.5,"g":180},{"A":68.125,"B":34.5,"g":192},{"A":71.875,"B":34.5,"g":198},{"A":75.625,"B":34.5,"g":200},{"A":79.375,"B":34.5,"g":196},{"A":83.125,"B":34.5,"g":176},{"A":86.875,"B":34.5,"g":148},{"A":90.625,"B":34.5,"g":110},
{"A":53.125,"B":33.5,"g":106},{"A":56.875,"B":33.5,"g":116},{"A":60.625,"B":33.5,"g":128},{"A":64.375,"B":33.5,"g":140},{"A":68.125,"B":33.5,"g":154},{"A":71.875,"B":33.5,"g":168},{"A":75.625,"B":33.5,"g":176},{"A":79.375,"B":33.5,"g":176},{"A":83.125,"B":33.5,"g":164},{"A":86.875,"B":33.5,"g":144},{"A":90.625,"B":33.5,"g":112},
{"A":68.125,"B":32.5,"g":112},{"A":71.875,"B":32.5,"g":122},{"A":75.625,"B":32.5,"g":134},{"A":79.375,"B":32.5,"g":142},{"A":83.125,"B":32.5,"g":142},{"A":86.875,"B":32.5,"g":132},{"A":90.625,"B":32.5,"g":108}],
"contours":[{"c":"c1","A":25,"B":46.39},{"c":"c1","A":39.8,"B":44.91},{"c":"c1","A":53.7,"B":43.69},{"c":"c1","A":59.4,"B":43.05},{"c":"c1","A":84.1,"B":40.24},{"c":"c1","A":100,"B":38.27},{"c":"c2","A":27.1,"B":50},{"c":"c2","A":58.8,"B":46.6},{"c":"c2","A":63.8,"B":46.06},{"c":"c2","A":100,"B":41.72},{"c":"c3","A":51.8,"B":50},{"c":"c3","A":71.8,"B":47.78},{"c":"c3","A":77.1,"B":47.04},{"c":"c3","A":100,"B":44.33},{"c":"c4","A":70.5,"B":50},{"c":"c4","A":79.4,"B":49.16},{"c":"c4","A":84.7,"B":48.27},{"c":"c4","A":100,"B":46.45},{"c":"c5","A":85.3,"B":50},{"c":"c5","A":93.3,"B":49.11},{"c":"c5","A":100,"B":48.37},{"c":"c6","A":25,"B":34.14},{"c":"c6","A":34.2,"B":32.86},{"c":"c6","A":39.5,"B":32.06},{"c":"c6","A":54.3,"B":30}],
"boxes":[{"t":"87.7892","A":53.94,"A2":65,"B":43.03,"B2":43.89,"M":59.47},{"t":"85.6462","A":58.5,"A2":69.57,"B":46.04,"B2":46.86,"M":64.03},{"t":"83.5032","A":71.85,"A2":82.87,"B":47.08,"B2":47.91,"M":77.36},{"t":"81.3602","A":79.4,"A2":90.47,"B":48.31,"B2":49.16,"M":84.93},{"t":"79.2172","A":84.15,"A2":95.2,"B":49.13,"B2":49.95,"M":89.67},{"t":"87.7892","A":34.31,"A2":45.33,"B":32.07,"B2":32.89,"M":39.82}]
},
"hconcat":[
{"width":600,"height":528,
"encoding":{"x":{"field":"u","type":"quantitative","scale":{"domain":[0,600],"nice":false,"zero":false},"axis":null},"y":{"field":"v","type":"quantitative","scale":{"domain":[568,40],"nice":false,"zero":false},"axis":null}},
"layer":[
{"data":{"name":"frame"},"mark":{"type":"line","stroke":"#222222","strokeWidth":1},"encoding":{"detail":{"field":"s","type":"nominal"},"order":{"field":"k","type":"quantitative"}}},
{"data":{"name":"floor"},"mark":{"type":"area","fill":"#ffff80"},"encoding":{"y2":{"field":"v2"}}},
{"data":{"name":"floorContours"},"mark":{"type":"line","stroke":"#1a2ee0","strokeWidth":1},"encoding":{"detail":{"field":"c","type":"nominal"}}},
{"data":{"name":"floorEdge"},"mark":{"type":"line","stroke":"#111111","strokeWidth":1},"encoding":{"order":{"field":"k","type":"quantitative"}}},
{"data":{"name":"bands"},"mark":{"type":"area"},"encoding":{"y2":{"field":"v2"},"color":{"field":"n","type":"nominal","legend":null,"scale":{"domain":[99,20,16,13,10,8,6,4,2],"range":["#fdfdfd","#f8f8f8","#f3f3f3","#eeeeee","#e8e8e8","#e3e3e3","#dddddd","#d6d6d6","#cccccc"]}}}},
{"data":{"name":"nodes"},"mark":{"type":"line","stroke":"#111111","strokeWidth":1},"encoding":{"detail":{"field":"i","type":"nominal"},"order":{"field":"j","type":"quantitative"}}},
{"data":{"name":"nodes"},"mark":{"type":"line","stroke":"#111111","strokeWidth":1},"encoding":{"detail":{"field":"j","type":"nominal"},"order":{"field":"i","type":"quantitative"}}},
{"data":{"name":"dots"},"mark":{"type":"point","filled":true,"fill":"#000000","size":9,"opacity":1}},
{"data":{"name":"labels"},"mark":{"type":"text","align":"left","baseline":"alphabetic","fontSize":15.3,"font":"Liberation Sans","fill":"#111111"},"encoding":{"text":{"field":"t"}}},
{"data":{"values":[{"t":"Iodine Value","u":24,"v":255.5}]},"mark":{"type":"text","angle":270,"align":"center","baseline":"alphabetic","fontSize":15.3,"font":"Liberation Sans","fill":"#111111"},"encoding":{"text":{"field":"t"}}},
{"data":{"values":[{"t":"(a)","u":268,"v":561}]},"mark":{"type":"text","align":"center","baseline":"alphabetic","fontSize":26,"font":"Liberation Serif","fill":"#000000"},"encoding":{"text":{"field":"t"}}}
]},
{"width":394.6,"height":405.7,"view":{"fill":"#666666","stroke":"#111111"},
"title":{"text":"Iodine Value","fontSize":23,"fontWeight":"normal","font":"Liberation Sans","offset":-3,"color":"#000000"},
"encoding":{"x":{"field":"A","type":"quantitative","title":"A: Solvent Composition","scale":{"domain":[25,100],"nice":false,"zero":false},"axis":{"values":[25,43.75,62.5,81.25,100],"format":".2f","grid":false,"domain":false,"labelFlush":false,"tickColor":"#000000","tickSize":10,"labelFontSize":10.4,"labelFont":"Liberation Sans","labelColor":"#000000","labelPadding":9,"titleFontSize":16.6,"titleFont":"Liberation Sans","titleFontWeight":"normal","titleColor":"#000000","titlePadding":40}},
"y":{"field":"B","type":"quantitative","title":"B: Temperature","scale":{"domain":[30,50],"nice":false,"zero":false},"axis":{"values":[30,35,40,45,50],"format":".2f","grid":false,"domain":false,"tickColor":"#000000","tickSize":11,"labelFontSize":10.4,"labelFont":"Liberation Sans","labelColor":"#000000","labelPadding":3,"titleFontSize":16.6,"titleFont":"Liberation Sans","titleFontWeight":"normal","titleColor":"#000000","titlePadding":26}}},
"layer":[
{"data":{"name":"cells"},"mark":{"type":"rect","width":20.2,"height":20.8},"encoding":{"color":{"field":"g","type":"quantitative","legend":null,"scale":{"domain":[0,255],"range":["#000000","#ffffff"]}}}},
{"data":{"name":"contours"},"mark":{"type":"line","stroke":"#0000e6","strokeWidth":1},"encoding":{"detail":{"field":"c","type":"nominal"}}},
{"data":{"name":"boxes"},"mark":{"type":"rect","fill":"#ffffff","stroke":"#1a1aee","strokeWidth":1},"encoding":{"x2":{"field":"A2"},"y2":{"field":"B2"}}},
{"data":{"name":"boxes"},"mark":{"type":"text","align":"center","baseline":"alphabetic","fontSize":14.8,"font":"Liberation Sans","fill":"#111111","dy":-2},"encoding":{"x":{"field":"M","type":"quantitative"},"text":{"field":"t"}}},
{"data":{"values":[{"A":51.3,"B":39.15,"B2":38.37}]},"mark":{"type":"rule","stroke":"#9a9aff","strokeWidth":1},"encoding":{"y2":{"field":"B2"}}},
{"data":{"values":[{"A":51.25,"B":38.37}]},"mark":{"type":"point","filled":true,"fill":"#9a9aff","size":10,"opacity":1}},
{"data":{"values":[{"A":20.93,"A2":51.33,"B":39.15,"B2":40.17}]},"mark":{"type":"rect","fill":"#ffffff","stroke":"#9a9aff","strokeWidth":1},"encoding":{"x2":{"field":"A2"},"y2":{"field":"B2"}}},
{"data":{"values":[{"t":"Predictio","A":21.45,"B":39.32},{"t":"89.35","A":36.13,"B":39.32}]},"mark":{"type":"text","align":"left","baseline":"alphabetic","fontSize":16.6,"font":"Liberation Sans","fill":"#111111"},"encoding":{"text":{"field":"t"}}},
{"data":{"values":[{"t":"(b)","A":54.13,"B":24.29}]},"mark":{"type":"text","align":"center","baseline":"alphabetic","fontSize":26,"font":"Liberation Serif","fill":"#000000"},"encoding":{"text":{"field":"t"}}}
]}
]}
